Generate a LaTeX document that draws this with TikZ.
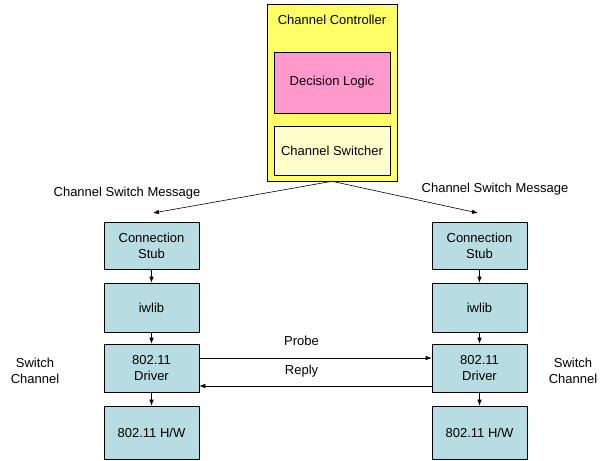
\documentclass[tikz,border=0pt]{standalone}
\usepackage{fontspec}
\setmainfont{Liberation Sans}
\usetikzlibrary{arrows.meta}
\definecolor{ctrlyellow}{HTML}{FFFF66}
\definecolor{logicpink}{HTML}{FF99CC}
\definecolor{switchyellow}{HTML}{FFFFCC}
\definecolor{stackblue}{HTML}{B7DDE2}

\begin{document}
\begin{tikzpicture}[x=1pt,y=-1pt,>={Latex[length=6pt,width=4.5pt]},semithick,
  every node/.style={font=\fontsize{13}{16}\selectfont, align=center, inner sep=0pt},
  box/.style={draw, fill=stackblue, minimum width=95pt}]
  \useasboundingbox (0,0) rectangle (606,461);
  % controller
  \node[draw, fill=ctrlyellow, minimum width=130pt, minimum height=177pt] (ctrl) at (332,92.5) {};
  \node (ctrltitle) at (332,20) {Channel Controller};
  \node[draw, fill=logicpink, minimum width=116pt, minimum height=61pt] (logic) at (332,82.5) {Decision Logic};
  \node[draw, fill=switchyellow, minimum width=116pt, minimum height=49pt] (switcher) at (332,150.5) {Channel Switcher};
  % two stacks
  \foreach \s/\x in {L/151.5, R/479.5} {
    \node[box, minimum height=47pt] (stub\s) at (\x,245.5) {Connection\\Stub};
    \node[box, minimum height=49pt] (iw\s) at (\x,307.5) {iwlib};
    \node[box, minimum height=48pt] (drv\s) at (\x,368) {802.11\\Driver};
    \node[box, minimum height=53pt] (hw\s) at (\x,432.5) {802.11 H/W};
    \draw[->] (stub\s) -- (iw\s);
    \draw[->] (iw\s) -- (drv\s);
    \draw[->] (drv\s) -- (hw\s);
  }
  \coordinate (msgL) at (153,213);
  \coordinate (msgR) at (478,213);
  \draw[->] (ctrl.south) -- (msgL);
  \draw[->] (ctrl.south) -- (msgR);
  \node (msgtextL) at (127,193) {Channel Switch Message};
  \node (msgtextR) at (495,189) {Channel Switch Message};
  \node (swL) at (35,371) {Switch\\Channel};
  \node (swR) at (573,371) {Switch\\Channel};
  % probe / reply
  \draw[->] ([yshift=10]drvL.east) -- ([yshift=10]drvR.west) node[pos=0.44, yshift=17] (probe) {Probe};
  \draw[->] ([yshift=-18]drvR.west) -- ([yshift=-18]drvL.east) node[pos=0.56, yshift=15] (reply) {Reply};
\end{tikzpicture}
\end{document}
